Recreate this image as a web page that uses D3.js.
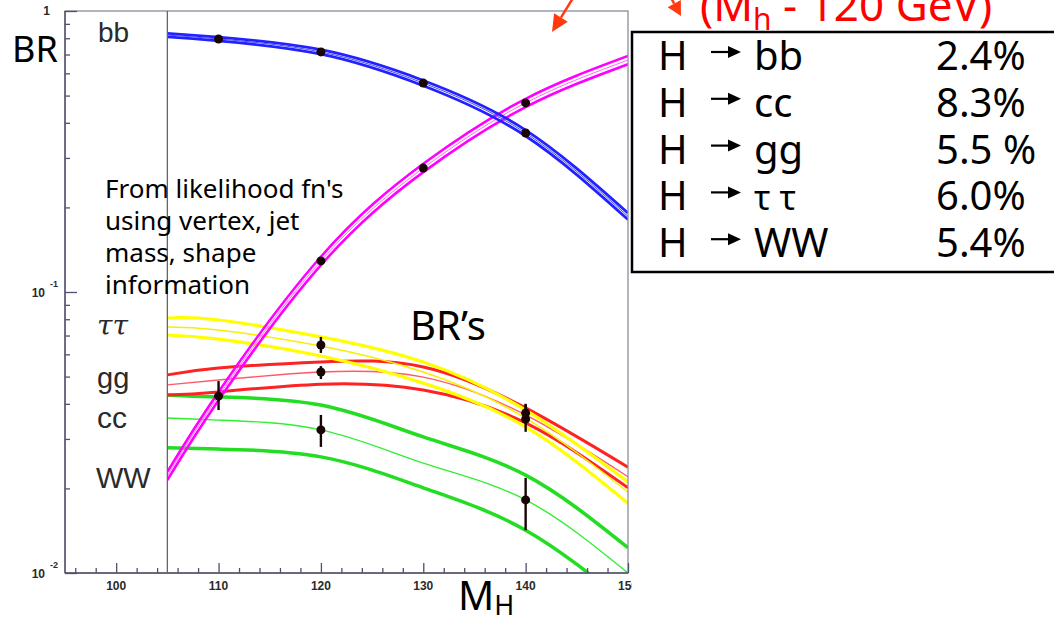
<!DOCTYPE html>
<html>
<head>
<meta charset="utf-8">
<script src="https://cdn.jsdelivr.net/npm/d3@7"></script>
<style>
  body { margin: 0; background: #fff; }
  svg { display: block; }
</style>
</head>
<body>
<div id="chart"></div>
<script>
const masses = [105, 110, 120, 130, 140, 150];

// branching ratio bands: upper edge, central, lower edge
const bbUpper   = [0.833, 0.807, 0.728, 0.566, 0.377, 0.191];
const bbCentral = [0.821, 0.795, 0.715, 0.554, 0.368, 0.186];
const bbLower   = [0.809, 0.783, 0.702, 0.542, 0.359, 0.181];

const wwUpper   = [0.0229, 0.0441, 0.1335, 0.286, 0.487, 0.692];
const wwCentral = [0.0221, 0.0426, 0.129, 0.276, 0.471, 0.669];
const wwLower   = [0.0214, 0.0412, 0.1246, 0.267, 0.455, 0.646];

const tautauUpper   = [0.0808, 0.0795, 0.0692, 0.0563, 0.0380, 0.0211];
const tautauCentral = [0.0750, 0.0732, 0.0642, 0.0519, 0.0356, 0.0194];
const tautauLower   = [0.0703, 0.0680, 0.0592, 0.0474, 0.0331, 0.0177];

const ggUpper   = [0.0507, 0.0536, 0.0564, 0.0541, 0.0387, 0.0238];
const ggCentral = [0.0467, 0.0486, 0.0519, 0.0498, 0.0365, 0.0220];
const ggLower   = [0.0430, 0.0441, 0.0470, 0.0448, 0.0342, 0.0201];

const ccUpper   = [0.0430, 0.0423, 0.0396, 0.0305, 0.0223, 0.0123];
const ccCentral = [0.0356, 0.0350, 0.0323, 0.0246, 0.0182, 0.0100];
const ccLower   = [0.0279, 0.0276, 0.0259, 0.0201, 0.0142, 0.0077];

// simulated measurements: mass, BR, error bar low / high
const measurements = [
  [110, 0.795, 0.780, 0.810], [120, 0.715, 0.700, 0.730],
  [130, 0.554, 0.540, 0.568], [140, 0.368, 0.358, 0.378],   // bb
  [110, 0.0426, 0.0380, 0.0482], [120, 0.129, 0.125, 0.133],
  [130, 0.276, 0.270, 0.282], [140, 0.471, 0.462, 0.480],   // WW
  [120, 0.0648, 0.0607, 0.0692], [140, 0.0353, 0.0318, 0.0399], // tautau
  [120, 0.0519, 0.0490, 0.0545], [140, 0.0371, 0.0342, 0.0400], // gg
  [120, 0.0323, 0.0281, 0.0365], [140, 0.0182, 0.0142, 0.0218]  // cc
];

const xTickLabels = ["100", "110", "120", "130", "140", "150"];
const channelLabels = ["bb", "ττ", "gg", "cc", "WW"];
const decays = ["bb", "cc", "gg", "τ τ", "WW"];
const precisions = ["2.4%", "8.3%", "5.5 %", "6.0%", "5.4%"];

const W = 1054, H = 617;
const slideFont = "'Noto Sans', 'Open Sans', sans-serif";
const plotFont = "'Liberation Sans', Arial, sans-serif";

const svg = d3.select("#chart").append("svg")
  .attr("width", W).attr("height", H);

const x = d3.scaleLinear().domain([95, 150]).range([65, 628]);
const y = d3.scaleLog().domain([0.01, 1]).range([573, 11]);

svg.append("clipPath").attr("id", "plotClip")
  .append("rect")
  .attr("x", x(105)).attr("y", y(1))
  .attr("width", x(150) - x(105)).attr("height", y(0.01) - y(1));

const line = d3.line()
  .x((d, i) => x(masses[i]))
  .y(d => y(d))
  .curve(d3.curveNatural);

const bands = [
  { lines: [ccUpper, ccLower], mid: ccCentral, color: "#22dd22", w: 3.5, midW: 1.4, midColor: "#33ee33" },
  { lines: [ggUpper, ggLower], mid: ggCentral, color: "#ff2222", w: 3, midW: 1.4, midColor: "#ff5a6a" },
  { lines: [tautauUpper, tautauLower], mid: tautauCentral, color: "#ffff00", w: 3.2, midW: 1.5, midColor: "#f6f000" },
  { lines: [wwUpper, wwLower], mid: wwCentral, color: "#ff00ff", w: 2.6, midW: 1, midColor: "#ff66ff" },
  { lines: [bbUpper, bbLower], mid: bbCentral, color: "#2222ff", w: 2.8, midW: 1, midColor: "#4a4aff" }
];

const curves = svg.append("g").attr("clip-path", "url(#plotClip)");
bands.forEach(b => {
  b.lines.forEach(arr => {
    curves.append("path").attr("d", line(arr))
      .attr("fill", "none").attr("stroke", b.color)
      .attr("stroke-width", b.w);
  });
  curves.append("path").attr("d", line(b.mid))
    .attr("fill", "none").attr("stroke", b.midColor)
    .attr("stroke-width", b.midW);
});

// measurement points with error bars
const pts = svg.append("g");
pts.selectAll("line.err").data(measurements).enter().append("line")
  .attr("x1", d => x(d[0])).attr("x2", d => x(d[0]))
  .attr("y1", d => y(d[2])).attr("y2", d => y(d[3]))
  .attr("stroke", "#1a0505").attr("stroke-width", 2.4);
pts.selectAll("circle").data(measurements).enter().append("circle")
  .attr("cx", d => x(d[0])).attr("cy", d => y(d[1]))
  .attr("r", 4.5).attr("fill", "#1a0505");

// frame and divider
svg.append("rect")
  .attr("x", x(95)).attr("y", y(1))
  .attr("width", x(150) - x(95)).attr("height", y(0.01) - y(1))
  .attr("fill", "none").attr("stroke", "#8c8c9c").attr("stroke-width", 1.3);
svg.append("line")
  .attr("x1", x(95)).attr("x2", x(95)).attr("y1", y(1)).attr("y2", y(0.01))
  .attr("stroke", "#50506a").attr("stroke-width", 1.4);
svg.append("line")
  .attr("x1", x(95)).attr("x2", x(150)).attr("y1", y(0.01)).attr("y2", y(0.01))
  .attr("stroke", "#50506a").attr("stroke-width", 1.4);
svg.append("line")
  .attr("x1", x(105)).attr("x2", x(105)).attr("y1", y(1)).attr("y2", y(0.01))
  .attr("stroke", "#666").attr("stroke-width", 1.3);

// axes: ticks point into the frame
const majorY = [0.01, 0.1, 1];
const minorY = y.ticks().filter(v => !majorY.some(m => Math.abs(m - v) < 1e-9));
function styleAxis(g) {
  g.select(".domain").remove();
  g.selectAll(".tick line").attr("stroke", "#50506a").attr("stroke-width", 1.3);
  g.selectAll(".tick text").remove();
}
svg.append("g").attr("transform", `translate(${x(95)},0)`)
  .call(d3.axisRight(y).tickValues(minorY).tickSize(5)).call(styleAxis);
svg.append("g").attr("transform", `translate(${x(95)},0)`)
  .call(d3.axisRight(y).tickValues(majorY).tickSize(12)).call(styleAxis);

const majorX = d3.range(100, 151, 10);
const minorX = d3.range(96, 151, 2).filter(v => v % 10 !== 0);
svg.append("g").attr("transform", `translate(0,${y(0.01)})`)
  .call(d3.axisTop(x).tickValues(minorX).tickSize(5)).call(styleAxis);
svg.append("g").attr("transform", `translate(0,${y(0.01)})`)
  .call(d3.axisTop(x).tickValues(majorX).tickSize(10)).call(styleAxis);

// tick labels
svg.append("clipPath").attr("id", "pageClip")
  .append("rect").attr("x", 0).attr("y", 0).attr("width", 632).attr("height", H);
svg.append("g").attr("clip-path", "url(#pageClip)")
  .selectAll("text").data(majorX).enter().append("text")
  .attr("x", d => x(d)).attr("y", y(0.01) + 17)
  .attr("text-anchor", "middle")
  .attr("font-family", plotFont).attr("font-size", 12).attr("font-weight", "bold")
  .attr("fill", "#2a2a2a")
  .text((d, i) => xTickLabels[i]);

[0.01, 0.1].forEach((v, i) => {
  svg.append("text").attr("x", 45).attr("y", y(v) + 5)
    .attr("text-anchor", "end")
    .attr("font-family", plotFont).attr("font-size", 12).attr("font-weight", "bold")
    .attr("fill", "#2a2a2a").text("10");
  svg.append("text").attr("x", 50).attr("y", y(v) - 5)
    .attr("font-family", plotFont).attr("font-size", 9).attr("font-weight", "bold")
    .attr("fill", "#2a2a2a").text(i === 0 ? "-2" : "-1");
});
svg.append("text").attr("x", 50).attr("y", y(1) + 4)
  .attr("text-anchor", "end")
  .attr("font-family", plotFont).attr("font-size", 12).attr("font-weight", "bold")
  .attr("fill", "#2a2a2a").text("1");

// channel labels in the left column
const labelPos = [[98, 42, 28], [97, 335, 28], [97, 388, 29], [97, 428, 30], [96, 488, 29]];
channelLabels.forEach((s, i) => {
  svg.append("text").attr("x", labelPos[i][0]).attr("y", labelPos[i][1])
    .attr("font-family", i === 1 ? "'DejaVu Serif', serif" : plotFont)
    .attr("font-style", i === 1 ? "italic" : "normal")
    .attr("font-size", labelPos[i][2]).attr("fill", "#2a2a2a")
    .text(s);
});

// slide annotations
svg.append("text").attr("x", 12).attr("y", 62)
  .attr("font-family", slideFont).attr("font-size", 36).attr("fill", "#000").text("BR");

const note = ["From likelihood fn's", "using vertex, jet", "mass, shape", "information"];
note.forEach((s, i) => {
  svg.append("text").attr("x", 105).attr("y", 198 + i * 32)
    .attr("font-family", slideFont).attr("font-size", 26).attr("fill", "#000").text(s);
});

svg.append("text").attr("x", 410).attr("y", 340)
  .attr("font-family", slideFont).attr("font-size", 40).attr("fill", "#000").text("BR’s");

const mh = svg.append("text").attr("x", 458).attr("y", 610)
  .attr("font-family", slideFont).attr("font-size", 40).attr("fill", "#000");
mh.append("tspan").text("M");
mh.append("tspan").attr("font-size", 27).attr("dy", 5).text("H");

// red header, partly cut at the top of the slide
const hdr = svg.append("text").attr("x", 700).attr("y", 21)
  .attr("font-family", slideFont).attr("font-size", 44).attr("fill", "#ff0000");
hdr.append("tspan").text("(M");
hdr.append("tspan").attr("font-size", 30).attr("dy", 9).text("h");
hdr.append("tspan").attr("dy", -9).text(" - 120 GeV)");

function arrow(x1, y1, x2, y2, len, half, color, width) {
  const a = Math.atan2(y2 - y1, x2 - x1);
  const bx = x2 - len * Math.cos(a), by = y2 - len * Math.sin(a);
  svg.append("line").attr("x1", x1).attr("y1", y1).attr("x2", bx).attr("y2", by)
    .attr("stroke", color).attr("stroke-width", width);
  const px = -Math.sin(a) * half, py = Math.cos(a) * half;
  svg.append("polygon")
    .attr("points", `${x2},${y2} ${bx + px},${by + py} ${bx - px},${by - py}`)
    .attr("fill", color);
}
arrow(573, -2, 552, 32, 17, 8, "#ff3a10", 2.5);
arrow(670, -4, 681, 16, 14, 7.5, "#ff3a10", 2.5);

// precision table
svg.append("rect").attr("x", 632).attr("y", 32).attr("width", 440).attr("height", 240)
  .attr("fill", "#fff").attr("stroke", "#000").attr("stroke-width", 2.5);
decays.forEach((d, i) => {
  const by = 70 + i * 46.8;
  svg.append("text").attr("x", 658).attr("y", by)
    .attr("font-family", slideFont).attr("font-size", 40).attr("fill", "#000").text("H");
  arrow(711, by - 18, 741, by - 18, 13, 6, "#000", 2.2);
  svg.append("text").attr("x", 754).attr("y", by)
    .attr("font-family", slideFont).attr("font-size", i === 3 ? 34 : 40).attr("fill", "#000").text(d);
  svg.append("text").attr("x", 936).attr("y", by)
    .attr("font-family", slideFont).attr("font-size", 40).attr("fill", "#000").text(precisions[i]);
});
</script>
</body>
</html>
